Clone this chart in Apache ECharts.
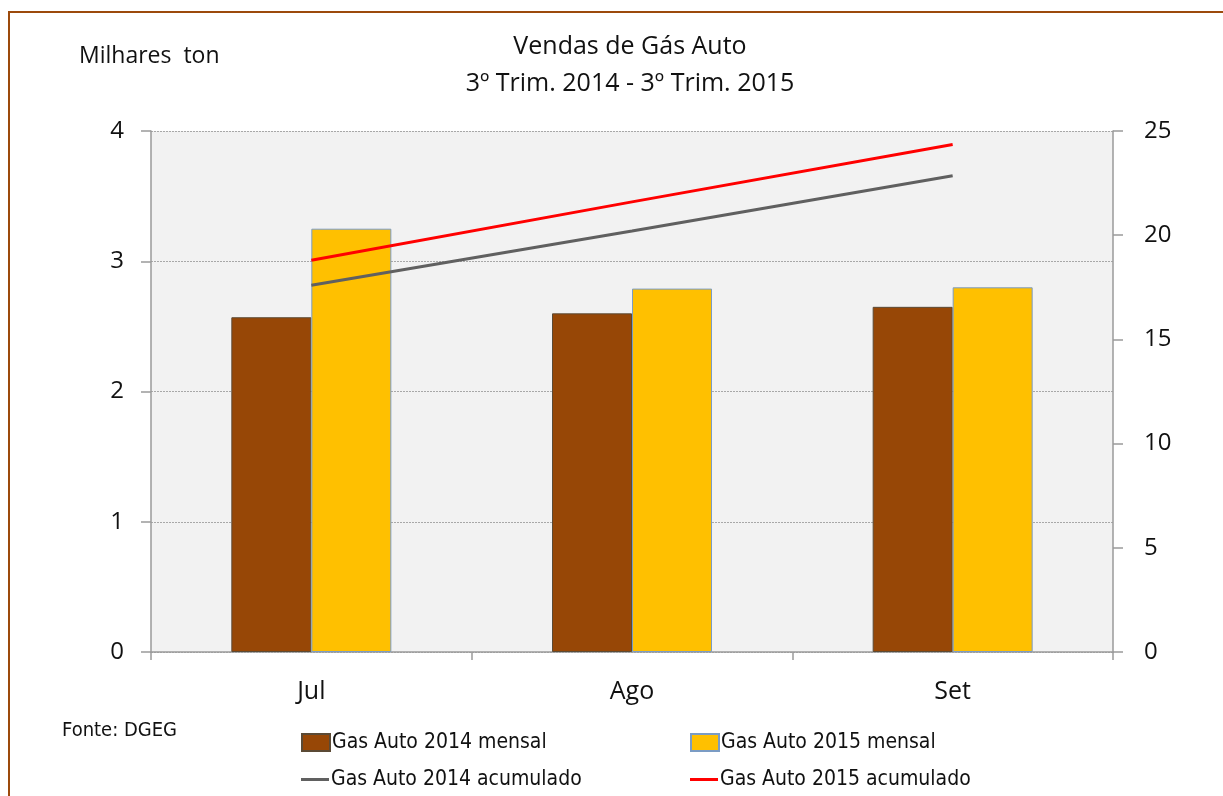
<!DOCTYPE html>
<html>
<head>
<meta charset="utf-8">
<script src="https://cdn.jsdelivr.net/npm/echarts@6/dist/echarts.min.js"></script>
<style>
  html, body { margin: 0; padding: 0; background: #fff; }
  #chart { width: 1223px; height: 796px; }
</style>
</head>
<body>
<div id="chart"></div>
<script>
// dados
const months = ['Jul', 'Ago', 'Set'];
const mensal2014 = [2.57, 2.60, 2.65];
const mensal2015 = [3.25, 2.79, 2.80];
const acum2014 = [17.6, 20.2, 22.85];
const acum2015 = [18.8, 21.6, 24.35];

const font = 'Open Sans, Noto Sans, sans-serif';
const narrow = 'Liberation Sans Narrow, DejaVu Sans Condensed, sans-serif';
const axisGray = '#9a9a9a';

const chart = echarts.init(document.getElementById('chart'), null, { renderer: 'canvas' });

const barLegend = {
  itemWidth: 28,
  itemHeight: 17,
  itemGap: 0,
  icon: 'rect',
  textStyle: { fontFamily: narrow, fontSize: 21, color: '#111', padding: [0, 0, 0, -3] },
  padding: 0
};
const lineLegend = Object.assign({}, barLegend, { itemHeight: 3 });

const option = {
  animation: false,
  backgroundColor: '#fff',
  title: {
    text: 'Vendas de Gás Auto\n3º Trim. 2014 - 3º Trim. 2015',
    left: 625,
    top: 23,
    textAlign: 'center',
    textStyle: { fontFamily: font, fontSize: 25, fontWeight: 'normal', color: '#111', lineHeight: 37 }
  },
  graphic: [
    { type: 'rect', shape: { x: 9, y: 12, width: 1230, height: 800 },
      style: { fill: 'none', stroke: '#9c4a0c', lineWidth: 2 } },
    { type: 'text', left: 79, top: 45,
      style: { text: 'Milhares  ton', font: '23px ' + font, fill: '#111' } },
    { type: 'text', left: 62, top: 721,
      style: { text: 'Fonte: DGEG', font: '20px ' + narrow, fill: '#111' } }
  ],
  legend: [
    Object.assign({}, barLegend, { left: 301, top: 732, data: ['Gas Auto 2014 mensal'] }),
    Object.assign({}, barLegend, { left: 690, top: 732, data: ['Gas Auto 2015 mensal'] }),
    Object.assign({}, lineLegend, { left: 301, top: 769, data: ['Gas Auto 2014 acumulado'] }),
    Object.assign({}, lineLegend, { left: 690, top: 769, data: ['Gas Auto 2015 acumulado'] })
  ],
  grid: {
    left: 151, right: 110, top: 131, bottom: 144,
    show: true, backgroundColor: '#f2f2f2', borderWidth: 0
  },
  xAxis: {
    type: 'category',
    data: months,
    axisLine: { lineStyle: { color: axisGray, width: 1.5 } },
    axisTick: { show: true, length: 8, lineStyle: { color: axisGray, width: 1.5 } },
    axisLabel: { fontFamily: font, fontSize: 25, color: '#111', margin: 27 }
  },
  yAxis: [
    {
      type: 'value', min: 0, max: 4, interval: 1, position: 'left',
      axisLine: { show: true, lineStyle: { color: axisGray, width: 1.5 } },
      axisTick: { show: true, length: 10, lineStyle: { color: axisGray, width: 1.5 } },
      axisLabel: { fontFamily: font, fontSize: 24, color: '#111', margin: 27 },
      splitLine: { show: true, lineStyle: { color: '#a8a8a8', type: [2, 1], width: 1 } }
    },
    {
      type: 'value', min: 0, max: 25, interval: 5, position: 'right',
      axisLine: { show: true, lineStyle: { color: axisGray, width: 1.5 } },
      axisTick: { show: true, length: 10, lineStyle: { color: axisGray, width: 1.5 } },
      axisLabel: { fontFamily: font, fontSize: 24, color: '#111', margin: 31 },
      splitLine: { show: false }
    }
  ],
  series: [
    {
      name: 'Gas Auto 2014 mensal', type: 'bar', data: mensal2014,
      barWidth: 80, barGap: '0%',
      itemStyle: { color: '#974706', borderColor: '#5b4a35', borderWidth: 1 }
    },
    {
      name: 'Gas Auto 2015 mensal', type: 'bar', data: mensal2015,
      barWidth: 80,
      itemStyle: { color: '#ffc000', borderColor: '#7b9cc4', borderWidth: 1 }
    },
    {
      name: 'Gas Auto 2014 acumulado', type: 'line', yAxisIndex: 1, data: acum2014,
      symbol: 'none', lineStyle: { color: '#606060', width: 3 }, itemStyle: { color: '#606060' }
    },
    {
      name: 'Gas Auto 2015 acumulado', type: 'line', yAxisIndex: 1, data: acum2015,
      symbol: 'none', lineStyle: { color: '#ff0000', width: 3 }, itemStyle: { color: '#ff0000' }
    }
  ]
};

chart.setOption(option);
</script>
</body>
</html>
